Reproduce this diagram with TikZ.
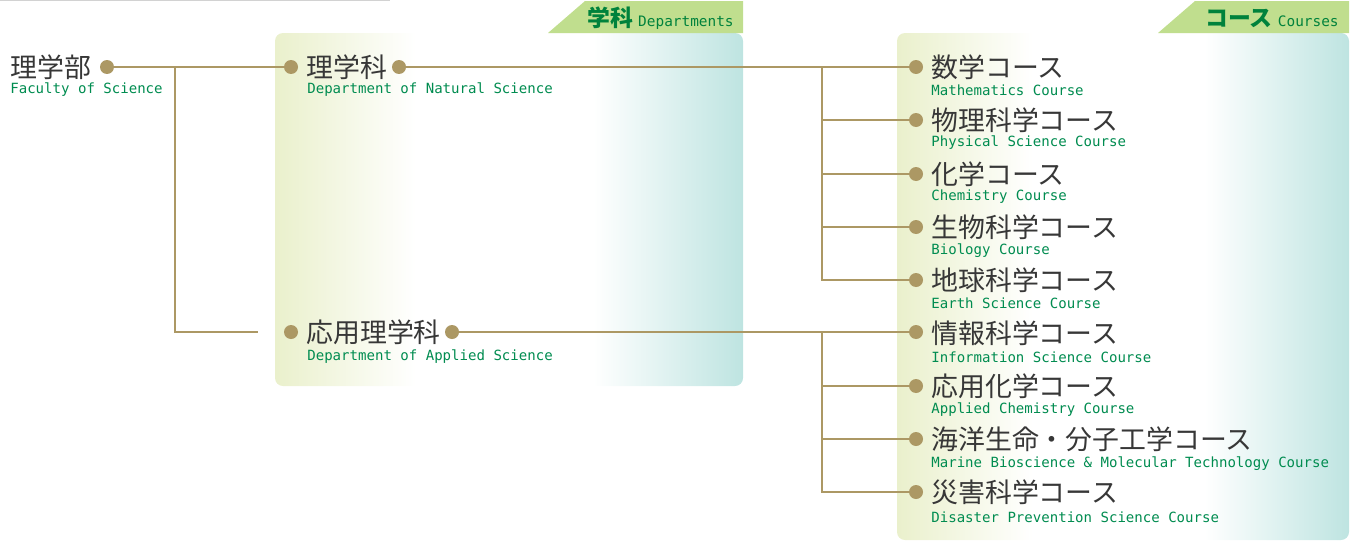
\documentclass[tikz,border=0pt]{standalone}
\usepackage{fontspec}
\newfontfamily\jpfont{Noto Sans CJK JP}
\setmonofont{DejaVu Sans Mono}

\definecolor{linebrown}{RGB}{172,152,100}
\definecolor{engreen}{RGB}{0,140,80}
\definecolor{tabgreen}{RGB}{192,222,142}
\definecolor{hdgreen}{RGB}{0,130,60}
\definecolor{jpgray}{RGB}{55,55,55}
\definecolor{panelyel}{RGB}{234,240,204}
\definecolor{panelteal}{RGB}{190,228,225}
\pgfdeclarehorizontalshading{panelshade}{100bp}{color(0bp)=(panelyel); color(25bp)=(panelyel); color(40bp)=(white); color(59bp)=(white); color(75bp)=(panelteal); color(100bp)=(panelteal)}

\begin{document}
\begin{tikzpicture}[x=0.02cm,y=-0.02cm,
    jp/.style={anchor=west,inner sep=0pt,text=jpgray,font=\jpfont\fontsize{15.3}{16}\selectfont},
    en/.style={anchor=west,inner sep=0pt,text=engreen,font=\ttfamily\fontsize{8}{9}\selectfont},
    head/.style={anchor=east,inner sep=0pt,text=hdgreen},
    panel/.style={shading=panelshade,rounded corners=0.16cm},
    tab/.style={fill=tabgreen}]
    \useasboundingbox (0,0) rectangle (1358,541);
    \draw[gray!35,line width=1pt] (0,0.5) -- (390,0.5);

    \path[panel] (275,33) rectangle (743,386);
    \path[panel] (897,33) rectangle (1349,540);
    \fill[tab] (548,33) -- (585,1) -- (743,1) -- (743,33) -- cycle;
    \fill[tab] (1158,33) -- (1195,1) -- (1349,1) -- (1349,33) -- cycle;
    \node[head] (hd) at (734,18) {\jpfont\bfseries\fontsize{13}{13}\selectfont 学科\ \ttfamily\mdseries\fontsize{8.2}{9}\selectfont Departments};
    \node[head] (hc) at (1339,18) {\jpfont\bfseries\fontsize{13}{13}\selectfont コース\ \ttfamily\mdseries\fontsize{8.2}{9}\selectfont Courses};

    \begin{scope}[every node/.style={circle,fill=linebrown,inner sep=0pt,minimum size=0.28cm}]
        \node (f) at (107,67) {};
        \node (n1) at (291,67) {};
        \node (n2) at (399,67) {};
        \node (a1) at (291,332) {};
        \node (a2) at (452,332) {};
        \node (c1) at (916,67) {};
        \node (c2) at (916,120) {};
        \node (c3) at (916,174) {};
        \node (c4) at (916,227) {};
        \node (c5) at (916,280) {};
        \node (c6) at (916,332) {};
        \node (c7) at (916,386) {};
        \node (c8) at (916,439) {};
        \node (c9) at (916,492) {};
    \end{scope}

    \node[jp] (tf) at (10,67) {理学部};
    \node[en] (ef) at (10,90) {Faculty of Science};
    \node[jp] (tn) at (306,67) {理学科};
    \node[en] (en) at (307,90) {Department of Natural Science};
    \node[jp] (ta) at (306,332) {応用理学科};
    \node[en] (ea) at (307,357) {Department of Applied Science};

    \node[jp] (t1) at (931,67) {数学コース};
    \node[en] (e1) at (931,90) {Mathematics Course};
    \node[jp] (t2) at (931,120) {物理科学コース};
    \node[en] (e2) at (931,143) {Physical Science Course};
    \node[jp] (t3) at (931,174) {化学コース};
    \node[en] (e3) at (931,197) {Chemistry Course};
    \node[jp] (t4) at (931,227) {生物科学コース};
    \node[en] (e4) at (931,251) {Biology Course};
    \node[jp] (t5) at (931,280) {地球科学コース};
    \node[en] (e5) at (931,303) {Earth Science Course};
    \node[jp] (t6) at (931,333) {情報科学コース};
    \node[en] (e6) at (931,357) {Information Science Course};
    \node[jp] (t7) at (931,386) {応用化学コース};
    \node[en] (e7) at (931,410) {Applied Chemistry Course};
    \node[jp] (t8) at (931,439) {海洋生命・分子工学コース};
    \node[en] (e8) at (931,464) {Marine Bioscience \& Molecular Technology Course};
    \node[jp] (t9) at (931,492) {災害科学コース};
    \node[en] (e9) at (931,517) {Disaster Prevention Science Course};

    \coordinate (fj) at (175,67);
    \coordinate (fe) at (258,332);
    \coordinate (b1) at (822,67);
    \coordinate (b2) at (822,332);
    \begin{scope}[every edge/.style={draw=linebrown,line width=0.8pt}]
        \draw (f) edge (n1);
        \draw (n2) edge (c1);
        \draw (a2) edge (c6);
    \end{scope}
    \begin{scope}[draw=linebrown,line width=0.8pt]
        \draw (fj) |- (fe);
        \draw (b1) |- (c2);
        \draw (b1) |- (c3);
        \draw (b1) |- (c4);
        \draw (b1) |- (c5);
        \draw (b2) |- (c7);
        \draw (b2) |- (c8);
        \draw (b2) |- (c9);
    \end{scope}
\end{tikzpicture}
\end{document}
